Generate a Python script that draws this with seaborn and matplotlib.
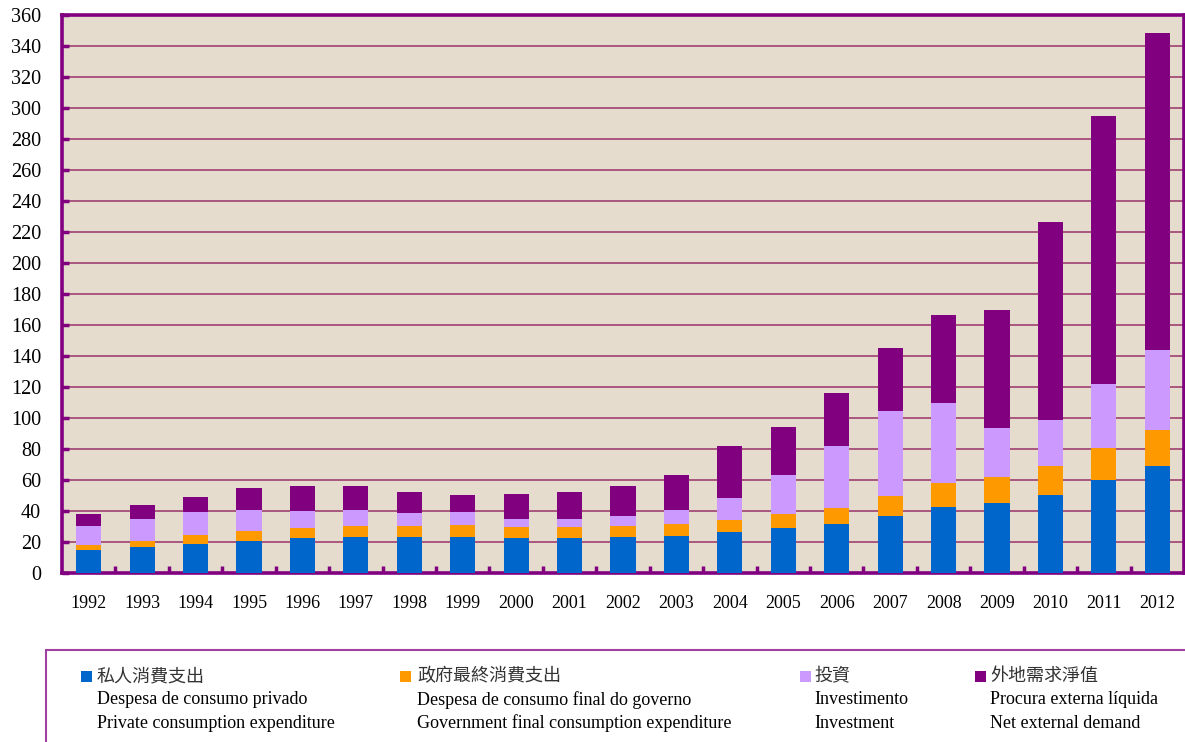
import matplotlib
matplotlib.use("Agg")
import matplotlib.pyplot as plt
from matplotlib.patches import Rectangle
from matplotlib.ticker import MultipleLocator, FixedLocator
import numpy as np
import pandas as pd
import seaborn as sns

# GDP by expenditure component (MOP billion)
years = [str(y) for y in range(1992, 2013)]
private_consumption = [15.0, 17.0, 18.9, 20.8, 22.8, 23.4, 23.4, 23.4, 22.8, 22.8, 23.4,
                       24.1, 26.6, 29.2, 31.8, 37.0, 42.8, 45.2, 50.2, 59.9, 68.9]
government_consumption = [3.3, 3.8, 5.4, 6.0, 6.4, 7.1, 7.1, 7.8, 7.0, 7.0, 7.1,
                          7.7, 7.8, 9.1, 10.3, 12.9, 15.5, 16.5, 18.7, 21.0, 23.3]
investment = [12.2, 14.2, 15.2, 14.0, 11.0, 10.3, 8.4, 8.3, 5.2, 5.2, 6.4,
              9.0, 14.2, 25.1, 40.0, 54.8, 51.6, 31.8, 29.7, 41.0, 51.6]
net_external_demand = [7.8, 9.1, 9.7, 14.2, 16.1, 15.5, 13.6, 11.0, 16.1, 17.5, 19.4,
                       22.6, 33.5, 31.0, 34.2, 40.7, 56.7, 76.1, 127.7, 172.8, 204.6]

series_names = ["私人消費支出", "政府最終消費支出", "投資", "外地需求淨值"]
series_pt = ["Despesa de consumo privado", "Despesa de consumo final do governo",
             "Investimento", "Procura externa líquida"]
series_en = ["Private consumption expenditure", "Government final consumption expenditure",
             "Investment", "Net external demand"]
colors = ["#0066CC", "#FF9900", "#CC99FF", "#800080"]

df = pd.DataFrame({
    "year": years,
    "private": private_consumption,
    "government": government_consumption,
    "investment": investment,
    "net": net_external_demand,
})
# cumulative stack tops, drawn from the tallest layer down
df["top_private"] = df["private"]
df["top_government"] = df["top_private"] + df["government"]
df["top_investment"] = df["top_government"] + df["investment"]
df["top_net"] = df["top_investment"] + df["net"]

sns.set_theme(style="white")
plt.rcParams["font.family"] = ["Liberation Serif", "Noto Sans CJK TC"]

W, H = 1185, 742
fig = plt.figure(figsize=(W / 100, H / 100), dpi=100)
fig.patch.set_facecolor("white")
ax = fig.add_axes([62 / W, 1 - 573 / H, 1122 / W, 558 / H])
ax.set_facecolor("#E6DCCE")

layers = ["top_net", "top_investment", "top_government", "top_private"]
layer_colors = [colors[3], colors[2], colors[1], colors[0]]
for col, c in zip(layers, layer_colors):
    sns.barplot(data=df, x="year", y=col, color=c, width=0.47, saturation=1,
                linewidth=0, ax=ax, zorder=3)

ax.set_xlim(-0.5, len(years) - 0.5)
ax.set_ylim(0, 360)
ax.yaxis.set_major_locator(MultipleLocator(20))
ax.set_xlabel("")
ax.set_ylabel("")

ax.grid(axis="y", color="#993366", linewidth=1.1, zorder=1)
ax.grid(axis="x", visible=False)
ax.set_axisbelow(True)

for s in ax.spines.values():
    s.set_visible(True)
    s.set_color("#800080")
    s.set_linewidth(2.6)

ax.tick_params(axis="y", direction="in", length=5, width=2.5, color="#800080",
               labelsize=14.5, pad=15, labelcolor="black", left=True)
ax.tick_params(axis="x", which="major", length=0, labelsize=13, pad=16,
               labelcolor="black")
ax.xaxis.set_minor_locator(FixedLocator(np.arange(0.5, len(years) - 1, 1.0)))
ax.tick_params(axis="x", which="minor", direction="in", length=5, width=2.5,
               color="#800080", bottom=True)
for lab in ax.get_xticklabels() + ax.get_yticklabels():
    lab.set_family("Liberation Serif")

# legend panel
fig.patches.append(Rectangle((46 / W, -0.05), 1.2, 1 - 650 / H + 0.05,
                             transform=fig.transFigure, facecolor="white",
                             edgecolor="#A040A0", linewidth=1.5, zorder=0))
col_x = [81, 400, 800, 975]
text_x = [97, 417, 814, 990]
for i in range(4):
    fig.patches.append(Rectangle((col_x[i] / W, 1 - 682 / H), 11 / W, 11 / H,
                                 transform=fig.transFigure, facecolor=colors[i],
                                 edgecolor="none", zorder=2))
    fig.text(text_x[i] / W, 1 - 676 / H, series_names[i], fontsize=13,
             family=["Noto Sans CJK TC", "DejaVu Sans"], color="#333333",
             va="center", ha="left")
    fig.text(text_x[i] / W, 1 - 700 / H, series_pt[i], fontsize=13,
             family="Liberation Serif", color="black", va="center", ha="left")
    fig.text(text_x[i] / W, 1 - 723 / H, series_en[i], fontsize=13,
             family="Liberation Serif", color="black", va="center", ha="left")

fig.savefig("out.png", dpi=100)
